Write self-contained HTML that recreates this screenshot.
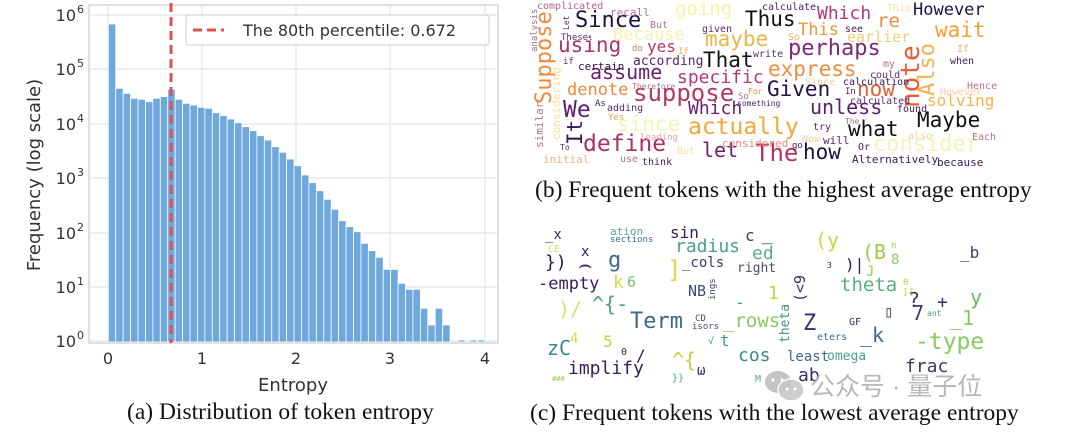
<!DOCTYPE html>
<html><head><meta charset="utf-8"><style>
body{margin:0;width:1080px;height:433px;background:#fff;overflow:hidden;position:relative;font-family:"DejaVu Sans Mono","Liberation Mono",monospace}
.w{position:absolute;line-height:1;white-space:nowrap}
.v{position:absolute;line-height:1;white-space:nowrap;transform-origin:0 0;transform:rotate(-90deg)}
.cap{position:absolute;font-family:"Liberation Serif",serif;font-size:23.5px;line-height:1;color:#111;white-space:nowrap}
</style></head><body>
<svg width="510" height="433" style="position:absolute;left:0;top:0" font-family="DejaVu Sans, sans-serif">
<rect x="89" y="5" width="409" height="338" fill="#fff" stroke="#ccc" stroke-width="1.2"/>
<g stroke="#ddd" stroke-width="1">
<line x1="108" y1="5" x2="108" y2="343"/><line x1="202" y1="5" x2="202" y2="343"/><line x1="296" y1="5" x2="296" y2="343"/><line x1="390" y1="5" x2="390" y2="343"/><line x1="485" y1="5" x2="485" y2="343"/>
<line x1="89" y1="15" x2="498" y2="15"/><line x1="89" y1="69" x2="498" y2="69"/><line x1="89" y1="124" x2="498" y2="124"/><line x1="89" y1="178" x2="498" y2="178"/><line x1="89" y1="233" x2="498" y2="233"/><line x1="89" y1="287" x2="498" y2="287"/><line x1="89" y1="341" x2="498" y2="341"/>
</g>
<g id="bars" fill="#6fa8dc" stroke="#fff" stroke-width="0.8"></g>
<line x1="171" y1="3" x2="171" y2="343" stroke="#d9534f" stroke-width="3" stroke-dasharray="9,5"/>
<rect x="186" y="15" width="303" height="30" rx="3" fill="#fff" fill-opacity="0.85" stroke="#ccc"/>
<line x1="193" y1="30" x2="224" y2="30" stroke="#d9534f" stroke-width="3" stroke-dasharray="9,5"/>
<text x="243" y="36" font-size="16" fill="#333">The 80th percentile: 0.672</text>
<g font-size="16" fill="#333" text-anchor="middle">
<text x="108" y="364">0</text><text x="202" y="364">1</text><text x="296" y="364">2</text><text x="390" y="364">3</text><text x="485" y="364">4</text>
</g>
<g font-size="16" fill="#333" text-anchor="end">
<text x="76" y="21">10</text><text x="76" y="75">10</text><text x="76" y="130">10</text><text x="76" y="184">10</text><text x="76" y="239">10</text><text x="76" y="293">10</text><text x="76" y="347">10</text>
</g>
<g font-size="11" fill="#333">
<text x="77" y="13">6</text><text x="77" y="67">5</text><text x="77" y="122">4</text><text x="77" y="176">3</text><text x="77" y="231">2</text><text x="77" y="285">1</text><text x="77" y="339">0</text>
</g>
<text x="293" y="391" font-size="18" fill="#333" text-anchor="middle">Entropy</text>
<text transform="translate(40,175) rotate(-90)" font-size="18" fill="#333" text-anchor="middle">Frequency (log scale)</text>
</svg>
<script>
var t=[24,88.3,93.3,98.3,99.3,101.7,98.3,96.7,89.3,99.3,103.3,105,107.3,108.3,112.7,115.7,119,122.7,126.7,130.7,135.7,140,146.7,152.3,159,165.7,175,182.7,190.7,199.3,209.3,220.7,226.7,231.7,243.3,250.7,257.3,269.3,269.3,283.3,289.3,289.3,308.3,325,308.3,325];
var g=document.getElementById('bars'),s='';
for(var i=0;i<t.length;i++){s+='<rect x="'+(108.3+i*7.43)+'" y="'+t[i]+'" width="7.43" height="'+(342-t[i])+'"/>';}
[458,470,478].forEach(function(x){s+='<rect x="'+x+'" y="340" width="7" height="2"/>';});
g.innerHTML=s;
</script>
<div class="cap" style="left:127px;top:401px">(a) Distribution of token entropy</div>
<div class="cap" style="left:535px;top:179px">(b) Frequent tokens with the highest average entropy</div>
<div class="cap" style="left:530px;top:402px">(c) Frequent tokens with the lowest average entropy</div>

<!-- cloud b -->
<div class="w" style="left:575px;top:10px;font-size:22px;color:#1b1044">Since</div>
<div class="w" style="left:745px;top:9px;font-size:21px;color:#111">Thus</div>
<div class="w" style="left:913px;top:2px;font-size:17px;color:#1b1044">However</div>
<div class="w" style="left:817px;top:5px;font-size:18px;color:#b5367a">Which</div>
<div class="w" style="left:877px;top:12px;font-size:19px;color:#f08a3c">re</div>
<div class="w" style="left:675px;top:0px;font-size:19px;color:#f5f3a5">going</div>
<div class="w" style="left:935px;top:20px;font-size:21px;color:#f5a030">wait</div>
<div class="w" style="left:798px;top:22px;font-size:17px;color:#f29438">This</div>
<div class="w" style="left:847px;top:30px;font-size:15px;color:#f8cd7a">earlier</div>
<div class="w" style="left:613px;top:27px;font-size:17px;color:#f8f0b0">Because</div>
<div class="w" style="left:705px;top:29px;font-size:21px;color:#f2b447">maybe</div>
<div class="w" style="left:558px;top:35px;font-size:21px;color:#a83563">using</div>
<div class="w" style="left:647px;top:39px;font-size:16px;color:#b03a5a">yes</div>
<div class="w" style="left:788px;top:38px;font-size:22px;color:#7a2a78">perhaps</div>
<div class="w" style="left:703px;top:50px;font-size:21px;color:#111">That</div>
<div class="w" style="left:633px;top:55px;font-size:13px;color:#5a1f6e">according</div>
<div class="w" style="left:578px;top:61px;font-size:11px;color:#2a1444">certain</div>
<div class="w" style="left:768px;top:59px;font-size:21px;color:#f08a3c">express</div>
<div class="w" style="left:590px;top:62px;font-size:20px;color:#6a2070">assume</div>
<div class="w" style="left:677px;top:69px;font-size:18px;color:#b03a78">specific</div>
<div class="w" style="left:567px;top:82px;font-size:17px;color:#ec8a3a">denote</div>
<div class="w" style="left:633px;top:81px;font-size:24px;color:#b53a62">suppose</div>
<div class="w" style="left:767px;top:79px;font-size:21px;color:#23104a">Given</div>
<div class="w" style="left:857px;top:79px;font-size:21px;color:#e85e3a">now</div>
<div class="w" style="left:810px;top:97px;font-size:20px;color:#5a1e6e">unless</div>
<div class="w" style="left:927px;top:93px;font-size:16px;color:#f3b347">solving</div>
<div class="w" style="left:563px;top:99px;font-size:23px;color:#5a1e6e">We</div>
<div class="w" style="left:688px;top:100px;font-size:18px;color:#6a2070">Which</div>
<div class="w" style="left:917px;top:110px;font-size:21px;color:#111">Maybe</div>
<div class="w" style="left:617px;top:114px;font-size:21px;color:#f8f2b8">since</div>
<div class="w" style="left:688px;top:116px;font-size:23px;color:#f0a838">actually</div>
<div class="w" style="left:848px;top:119px;font-size:21px;color:#111">what</div>
<div class="w" style="left:873px;top:134px;font-size:22px;color:#f8f0b8">consider</div>
<div class="w" style="left:583px;top:133px;font-size:23px;color:#a83060">define</div>
<div class="w" style="left:702px;top:140px;font-size:20px;color:#6a2070">let</div>
<div class="w" style="left:755px;top:141px;font-size:24px;color:#b8325a">The</div>
<div class="w" style="left:803px;top:142px;font-size:21px;color:#1b1044">how</div>
<div class="v" style="left:534px;top:104px;font-size:22px;color:#f08a3c">Suppose</div>
<div class="v" style="left:898px;top:108px;font-size:26px;color:#e85e3a">note</div>
<div class="v" style="left:917px;top:96px;font-size:22px;color:#f5b050">Also</div>
<div class="v" style="left:565px;top:145px;font-size:21px;color:#3a1a5a">It</div>
<div class="v" style="left:534px;top:148px;font-size:11px;color:#b07090">similar</div>
<div class="v" style="left:551px;top:140px;font-size:11px;color:#f5e0a0">considering</div>
<div class="v" style="left:531px;top:52px;font-size:9px;color:#9a7090">analysis</div>
<div class="v" style="left:563px;top:30px;font-size:8px;color:#6a2070">Let</div>
<div class="w" style="left:537px;top:2px;font-size:10px;color:#b0608a">complicated</div>
<div class="w" style="left:610px;top:7px;font-size:11px;color:#b07090">recall</div>
<div class="w" style="left:762px;top:3px;font-size:10px;color:#4a2060">calculate</div>
<div class="w" style="left:887px;top:4px;font-size:10px;color:#f8e0a0">This</div>
<div class="w" style="left:650px;top:21px;font-size:10px;color:#b07090">But</div>
<div class="w" style="left:702px;top:25px;font-size:10px;color:#5a2a6e">given</div>
<div class="w" style="left:845px;top:25px;font-size:10px;color:#4a2060">see</div>
<div class="w" style="left:788px;top:33px;font-size:10px;color:#f2b060">So</div>
<div class="w" style="left:561px;top:34px;font-size:9px;color:#5a2a6e">These.</div>
<div class="w" style="left:632px;top:45px;font-size:9px;color:#e07a60">do</div>
<div class="w" style="left:678px;top:48px;font-size:9px;color:#f2b060">If</div>
<div class="w" style="left:753px;top:50px;font-size:10px;color:#5a2a6e">write</div>
<div class="w" style="left:957px;top:45px;font-size:10px;color:#f2b060">If</div>
<div class="w" style="left:563px;top:58px;font-size:9px;color:#5a2a6e">if</div>
<div class="w" style="left:883px;top:60px;font-size:10px;color:#b07090">my</div>
<div class="w" style="left:950px;top:57px;font-size:10px;color:#3a1a5a">when</div>
<div class="w" style="left:870px;top:71px;font-size:10px;color:#6a2070">could</div>
<div class="w" style="left:805px;top:78px;font-size:10px;color:#f8c8a0">Since</div>
<div class="w" style="left:843px;top:78px;font-size:10px;color:#3a1a5a">calculation</div>
<div class="w" style="left:632px;top:83px;font-size:8px;color:#b07090">Therefore</div>
<div class="w" style="left:748px;top:88px;font-size:8px;color:#f08a3c">For</div>
<div class="w" style="left:845px;top:88px;font-size:9px;color:#5a2a6e">In</div>
<div class="w" style="left:967px;top:82px;font-size:10px;color:#b07090">Hence</div>
<div class="w" style="left:940px;top:88px;font-size:10px;color:#f8d0a0">However</div>
<div class="w" style="left:738px;top:93px;font-size:9px;color:#b07090">So</div>
<div class="w" style="left:737px;top:100px;font-size:8px;color:#4a2060">something</div>
<div class="w" style="left:850px;top:97px;font-size:10px;color:#5a2a6e">calculated</div>
<div class="w" style="left:595px;top:100px;font-size:9px;color:#4a2060">As</div>
<div class="w" style="left:607px;top:104px;font-size:10px;color:#5a2a6e">adding</div>
<div class="w" style="left:897px;top:105px;font-size:10px;color:#3a1a5a">found</div>
<div class="w" style="left:608px;top:114px;font-size:9px;color:#f0a060">Yes</div>
<div class="w" style="left:813px;top:123px;font-size:10px;color:#6a2070">try</div>
<div class="w" style="left:845px;top:118px;font-size:8px;color:#b07090">The</div>
<div class="w" style="left:640px;top:134px;font-size:9px;color:#f0a0a0">leading</div>
<div class="w" style="left:908px;top:132px;font-size:10px;color:#f8c8a0">also</div>
<div class="w" style="left:972px;top:133px;font-size:10px;color:#b07090">Each</div>
<div class="w" style="left:722px;top:138px;font-size:11px;color:#ec8a7a">considered</div>
<div class="w" style="left:823px;top:135px;font-size:11px;color:#5a2a6e">will</div>
<div class="w" style="left:802px;top:135px;font-size:10px;color:#f8c8a0">Now</div>
<div class="w" style="left:560px;top:144px;font-size:8px;color:#5a2a6e">To</div>
<div class="w" style="left:792px;top:142px;font-size:9px;color:#4a2060">go</div>
<div class="w" style="left:858px;top:143px;font-size:10px;color:#4a2060">Or</div>
<div class="w" style="left:677px;top:147px;font-size:10px;color:#f8e0a0">But</div>
<div class="w" style="left:543px;top:154px;font-size:11px;color:#f0b080">initial</div>
<div class="w" style="left:620px;top:155px;font-size:10px;color:#b07090">use</div>
<div class="w" style="left:642px;top:158px;font-size:10px;color:#4a2060">think</div>
<div class="w" style="left:852px;top:154px;font-size:11px;color:#3a1a5a">Alternatively</div>
<div class="w" style="left:937px;top:157px;font-size:11px;color:#3a1a5a">because</div>

<!-- cloud c -->
<div class="w" style="left:545px;top:228px;font-size:14px;color:#3a2a6e">_x</div>
<div class="w" style="left:610px;top:226px;font-size:11px;color:#5aa88a">ation</div>
<div class="w" style="left:610px;top:236px;font-size:9px;color:#3a6a8a">sections</div>
<div class="w" style="left:670px;top:225px;font-size:16px;color:#3a1a5e">sin</div>
<div class="w" style="left:745px;top:228px;font-size:16px;color:#3a3a6a">c</div>
<div class="w" style="left:762px;top:226px;font-size:18px;color:#2a3a6a">_</div>
<div class="w" style="left:815px;top:230px;font-size:20px;color:#c8d83a">(y</div>
<div class="w" style="left:675px;top:238px;font-size:18px;color:#4aa08a">radius</div>
<div class="w" style="left:752px;top:245px;font-size:18px;color:#5ab07a">ed</div>
<div class="w" style="left:862px;top:242px;font-size:20px;color:#9acc4a">(B</div>
<div class="w" style="left:891px;top:242px;font-size:9px;color:#9acc4a">n</div>
<div class="w" style="left:891px;top:253px;font-size:14px;color:#8ac860">8</div>
<div class="w" style="left:960px;top:245px;font-size:16px;color:#3a3a7a">_b</div>
<div class="w" style="left:548px;top:245px;font-size:10px;color:#d8e070">CE</div>
<div class="w" style="left:581px;top:245px;font-size:14px;color:#3a1a5e">x</div>
<div class="w" style="left:545px;top:254px;font-size:18px;color:#2a1a4e">})</div>
<div class="w" style="left:578px;top:255px;font-size:22px;color:#4a2a6e">⌢</div>
<div class="w" style="left:608px;top:250px;font-size:22px;color:#3a6a8a">g</div>
<div class="w" style="left:667px;top:258px;font-size:24px;color:#d8d848">]</div>
<div class="w" style="left:682px;top:256px;font-size:14px;color:#3a3a6a">_cols</div>
<div class="w" style="left:737px;top:262px;font-size:13px;color:#4a4a7a">right</div>
<div class="v" style="left:793px;top:302px;font-size:15px;color:#3a2a6e">(&lt;9</div>
<div class="w" style="left:845px;top:257px;font-size:16px;color:#2a1a4e">)|</div>
<div class="w" style="left:866px;top:265px;font-size:14px;color:#9acc4a">J</div>
<div class="w" style="left:827px;top:262px;font-size:8px;color:#2a1a4e">3</div>
<div class="w" style="left:538px;top:276px;font-size:17px;color:#3a1a5e">-empty</div>
<div class="w" style="left:613px;top:274px;font-size:18px;color:#d8d848">k</div>
<div class="w" style="left:627px;top:275px;font-size:15px;color:#7ac070">6</div>
<div class="w" style="left:688px;top:284px;font-size:15px;color:#3a4a7a">NB</div>
<div class="v" style="left:709px;top:300px;font-size:9px;color:#3a4a7a">ings</div>
<div class="w" style="left:768px;top:285px;font-size:18px;color:#c8d040">1</div>
<div class="w" style="left:735px;top:295px;font-size:16px;color:#4a9a8a">-</div>
<div class="w" style="left:840px;top:276px;font-size:19px;color:#5ab07a">theta</div>
<div class="w" style="left:903px;top:279px;font-size:9px;color:#c8d040">θ</div>
<div class="w" style="left:903px;top:289px;font-size:9px;color:#c8d040">}{</div>
<div class="w" style="left:970px;top:287px;font-size:20px;color:#6ab86a">y</div>
<div class="w" style="left:908px;top:290px;font-size:20px;color:#3a3a6a">?</div>
<div class="w" style="left:937px;top:294px;font-size:18px;color:#3a2a6e">+</div>
<div class="w" style="left:558px;top:299px;font-size:20px;color:#d8e070">)/</div>
<div class="w" style="left:592px;top:294px;font-size:20px;color:#4aa08a">^{-</div>
<div class="w" style="left:884px;top:304px;font-size:16px;color:#3a3a6a">▯</div>
<div class="w" style="left:912px;top:303px;font-size:20px;color:#3a3a6a">7</div>
<div class="w" style="left:630px;top:311px;font-size:22px;color:#3a6a8a">Term</div>
<div class="w" style="left:723px;top:312px;font-size:19px;color:#8ac860">_rows</div>
<div class="v" style="left:779px;top:343px;font-size:13px;color:#4a8a8a">theta</div>
<div class="w" style="left:803px;top:313px;font-size:22px;color:#3a2a6e">Z</div>
<div class="w" style="left:950px;top:308px;font-size:20px;color:#8ac860">_1</div>
<div class="w" style="left:927px;top:310px;font-size:8px;color:#4a9a8a">ant</div>
<div class="w" style="left:849px;top:318px;font-size:10px;color:#3a2a6e">GF</div>
<div class="w" style="left:695px;top:315px;font-size:9px;color:#3a4a7a">CD</div>
<div class="w" style="left:692px;top:323px;font-size:9px;color:#3a4a7a">isors</div>
<div class="w" style="left:547px;top:338px;font-size:20px;color:#3a8a8a">zC</div>
<div class="w" style="left:570px;top:332px;font-size:14px;color:#d8d848">4</div>
<div class="w" style="left:603px;top:334px;font-size:16px;color:#c8d040">5</div>
<div class="w" style="left:621px;top:348px;font-size:10px;color:#2a1a4e">0</div>
<div class="w" style="left:636px;top:348px;font-size:16px;color:#2a1a4e">/</div>
<div class="w" style="left:915px;top:331px;font-size:23px;color:#8ac860">-type</div>
<div class="w" style="left:860px;top:325px;font-size:20px;color:#3a6a8a">_k</div>
<div class="w" style="left:817px;top:333px;font-size:10px;color:#3a6a8a">eters</div>
<div class="w" style="left:708px;top:337px;font-size:10px;color:#4a9a8a">√</div>
<div class="w" style="left:720px;top:333px;font-size:16px;color:#4a9a8a">t</div>
<div class="w" style="left:738px;top:347px;font-size:18px;color:#3a8a8a">cos</div>
<div class="w" style="left:787px;top:350px;font-size:14px;color:#3a6a8a">least</div>
<div class="w" style="left:827px;top:350px;font-size:13px;color:#4aa08a">omega</div>
<div class="w" style="left:672px;top:350px;font-size:20px;color:#c8d040">^{</div>
<div class="w" style="left:697px;top:364px;font-size:14px;color:#3a2a6e">ω</div>
<div class="w" style="left:905px;top:358px;font-size:18px;color:#3a3a6a">frac</div>
<div class="w" style="left:568px;top:360px;font-size:18px;color:#3a1a5e">implify</div>
<div class="w" style="left:798px;top:367px;font-size:18px;color:#3a2a6e">ab</div>
<div class="w" style="left:672px;top:374px;font-size:10px;color:#4aa08a">}}</div>
<div class="w" style="left:755px;top:375px;font-size:10px;color:#5ab07a">M</div>
<div class="w" style="left:552px;top:376px;font-size:7px;color:#9acc4a">###</div>

<!-- watermark -->
<svg width="44" height="32" style="position:absolute;left:763px;top:370px">
<ellipse cx="15" cy="12" rx="13" ry="11" fill="#bbb" opacity="0.85"/>
<ellipse cx="28" cy="20" rx="13" ry="11" fill="#c8c8c8" stroke="#fff" stroke-width="1.5" opacity="0.9"/>
<circle cx="10" cy="10" r="1.6" fill="#fff"/><circle cx="19" cy="10" r="1.6" fill="#fff"/>
<circle cx="24" cy="19" r="1.4" fill="#fff"/><circle cx="32" cy="19" r="1.4" fill="#fff"/>
</svg>
<div class="w" style="left:810px;top:375px;font-size:25px;color:#b0b0b0;font-family:'Liberation Sans','Noto Sans CJK SC',sans-serif;opacity:0.9">公众号 · 量子位</div>
</body></html>
